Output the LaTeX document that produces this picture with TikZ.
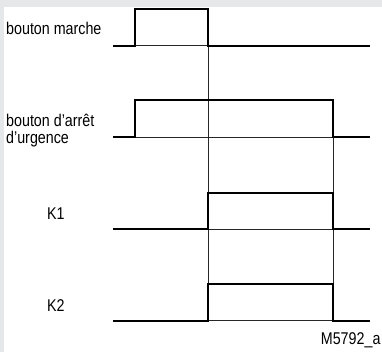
\documentclass[tikz,border=0pt]{standalone}
\usepackage{fontspec}
\setmainfont{Liberation Sans}[FakeStretch=0.84]
\definecolor{panelgray}{RGB}{230,231,233}

\begin{document}
\begin{tikzpicture}[x=1pt, y=-1pt,
    every node/.style={inner sep=0pt, font=\fontsize{17}{17}\selectfont},
    signal/.style={line width=2.3pt},
    guideline/.style={line width=0.8pt, black!85}]
            % Frame
            \useasboundingbox (0,0) rectangle (382,352);
            \fill[panelgray] (0,0) rectangle (382,352);
            \fill[white] (4,7) rectangle (382,352);

            % Thin guide lines
            \draw[guideline] (208,9) -- (208,320.7);
            \draw[guideline] (333,100) -- (333,320.7);
            \draw[guideline] (135,45.7) -- (208,45.7);
            \draw[guideline] (135,137.3) -- (333,137.3);
            \draw[guideline] (208,229) -- (333,229);
            \draw[guideline] (208,320.7) -- (333,320.7);

            % Signals
            \draw[signal] (113,45.7) -- (135,45.7) -- (135,9) -- (208,9) -- (208,45.7) -- (370,45.7);
            \draw[signal] (113,137.3) -- (135,137.3) -- (135,100) -- (333,100) -- (333,137.3) -- (370,137.3);
            \draw[signal] (113,229) -- (208,229) -- (208,193.3) -- (333,193.3) -- (333,229) -- (370,229);
            \draw[signal] (113,320.7) -- (208,320.7) -- (208,284.3) -- (333,284.3) -- (333,320.7) -- (370,320.7);

            % Labels
            \node[anchor=base west] (marche) at (6,35) {bouton marche};
            \node[anchor=base west, align=left] (arret) at (6,144) {bouton d'arrêt\\d'urgence};
            \node[anchor=base west] (kone) at (47,220) {K1};
            \node[anchor=base west] (ktwo) at (47,311.7) {K2};
            \node[anchor=base west] (ref) at (320.7,344) {M5792\_a};
\end{tikzpicture}
\end{document}
